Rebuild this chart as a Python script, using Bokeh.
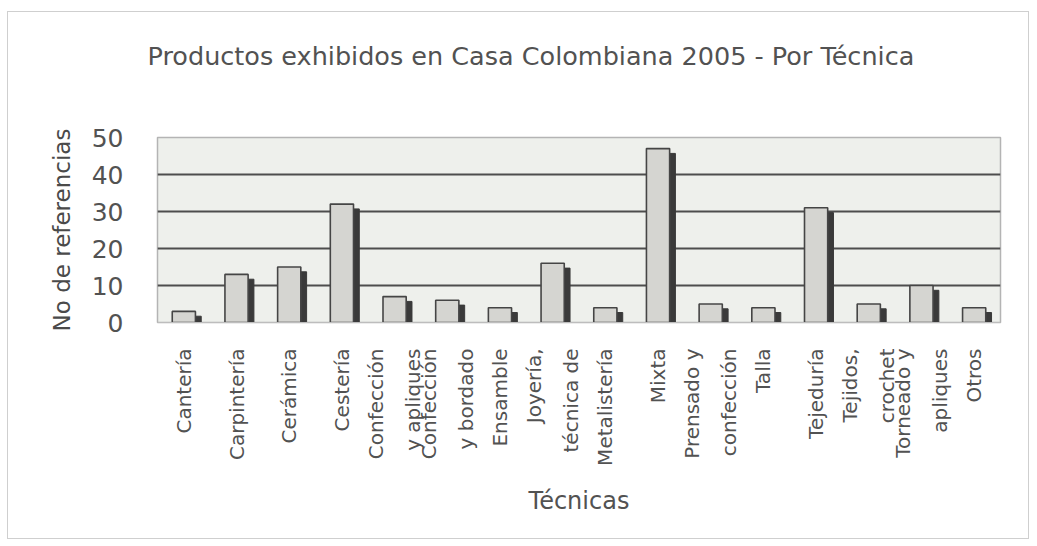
import math
from bokeh.plotting import figure
from bokeh.models import FactorRange, Range1d, FixedTicker, Title, ColumnDataSource
from bokeh.transform import dodge
from bokeh.embed import file_html
from bokeh.resources import INLINE

categories = [
    "Cantería", "Carpintería", "Cerámica", "Cestería",
    "Confección\ny apliques", "Confección\ny bordado", "Ensamble",
    "Joyería,\ntécnica de", "Metalistería", "Mixta",
    "Prensado y\nconfección", "Talla", "Tejeduría",
    "Tejidos,\ncrochet", "Torneado y\napliques", "Otros",
]
values = [3, 13, 15, 32, 7, 6, 4, 16, 4, 47, 5, 4, 31, 5, 10, 4]
y_ticks = [0, 10, 20, 30, 40, 50]

title_text = "Productos exhibidos en Casa Colombiana 2005 - Por Técnica"
x_title = "Técnicas"
y_title = "No de referencias"

FONT = "DejaVu Sans"
TXT = "#525252"

side_top = [v - 1.3 for v in values]
src = ColumnDataSource(dict(cat=categories, val=values, side=side_top))

p = figure(
    x_range=FactorRange(*categories, range_padding=0),
    y_range=Range1d(0, 50),
    width=1022, height=528,
    output_backend="svg", toolbar_location=None,
    min_border_left=149, min_border_right=30,
    min_border_top=125, min_border_bottom=218,
    background_fill_color="#eef0ec",
    border_fill_color="white",
)
p.styles = {"border": "1px solid #cfcfcf", "margin-left": "7px", "margin-top": "11px"}

# spacer between frame and title
spacer = Title(text=" ", text_font_size="1px", standoff=64)
p.add_layout(spacer, "above")
t = Title(text=title_text, text_font=FONT, text_font_size="25.5px",
          text_font_style="normal", text_color=TXT, align="left",
          offset=-10, standoff=0)
p.add_layout(t, "above")

# dark side face
p.vbar(x=dodge("cat", 0.275, range=p.x_range), top="side", bottom=0, width=0.11,
       source=src, fill_color="#3a3a3a", line_color="#3a3a3a", line_width=1)
# front face
p.vbar(x="cat", top="val", bottom=0, width=0.44, source=src,
       fill_color="#d5d5d1", line_color="#454545", line_width=1.6)

p.outline_line_color = "#b4b4b4"
p.outline_line_width = 1.5

p.xgrid.grid_line_color = None
p.ygrid.ticker = FixedTicker(ticks=y_ticks[1:-1])
p.ygrid.grid_line_color = "#4d4d4d"
p.ygrid.grid_line_width = 2
p.ygrid.level = "underlay"

p.yaxis.ticker = FixedTicker(ticks=y_ticks)
p.yaxis.axis_line_color = None
p.yaxis.major_tick_line_color = None
p.yaxis.minor_tick_line_color = None
p.yaxis.major_label_text_font = FONT
p.yaxis.major_label_text_font_size = "25px"
p.yaxis.major_label_text_color = TXT
p.yaxis.major_label_standoff = 28
p.yaxis.axis_label = y_title
p.yaxis.axis_label_text_font = FONT
p.yaxis.axis_label_text_font_size = "23px"
p.yaxis.axis_label_text_font_style = "normal"
p.yaxis.axis_label_text_color = "#4a4a4a"
p.yaxis.axis_label_standoff = 14

p.xaxis.axis_line_color = "#bdbdbd"
p.xaxis.major_tick_line_color = None
p.xaxis.minor_tick_line_color = None
p.xaxis.major_label_orientation = math.pi / 2
p.xaxis.major_label_text_font = FONT
p.xaxis.major_label_text_font_size = "20px"
p.xaxis.major_label_text_color = TXT
p.xaxis.major_label_text_line_height = 1.55
p.xaxis.major_label_standoff = 20
p.xaxis.axis_label = x_title
p.xaxis.axis_label_text_font = FONT
p.xaxis.axis_label_text_font_size = "24px"
p.xaxis.axis_label_text_font_style = "normal"
p.xaxis.axis_label_text_color = TXT
p.xaxis.axis_label_standoff = 18

open("out.html", "w").write(file_html(p, INLINE))
